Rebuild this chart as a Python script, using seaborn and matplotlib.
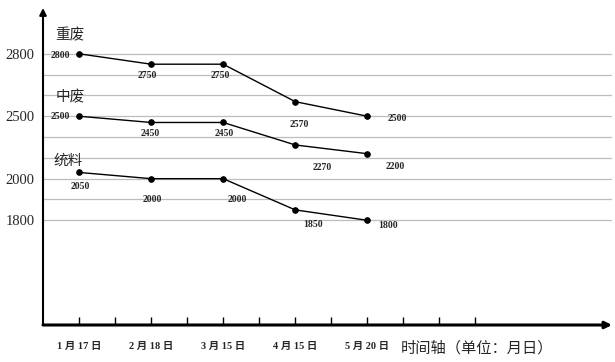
import numpy as np
import pandas as pd
import matplotlib.pyplot as plt
import seaborn as sns

# chart data
dates = ["1 月 17 日", "2 月 18 日", "3 月 15 日", "4 月 15 日", "5 月 20 日"]
grades = ["重废", "中废", "统料"]
heavy = [2800, 2750, 2750, 2570, 2500]
medium = [2500, 2450, 2450, 2270, 2200]
bulk = [2050, 2000, 2000, 1850, 1800]
y_ticks = [1800, 2000, 2500, 2800]
x_title = "时间轴（单位：月日）"

# value label offsets in pixels (dx, dy with dy downward)
heavy_off = [(-19, 2), (-4, 11), (-3, 11), (4, 23), (30, 2)]
medium_off = [(-19, 0), (-1, 11), (1, 11), (27, 23), (28, 13)]
bulk_off = [(1, 14), (1, 21), (14, 21), (18, 15), (21, 5)]
name_off = [(-9, -19), (-9, -19), (-11, -12)]

# the hand-drawn value axis is not linear: tick values sit on grid rows 0, 2, 5, 8
anchor_vals = [1000, 1800, 2000, 2500, 2800, 3600]
anchor_rows = [-8, 0, 2, 5, 8, 16]


def fwd(v):
    return np.interp(v, anchor_vals, anchor_rows)


def inv(r):
    return np.interp(r, anchor_rows, anchor_vals)


df = pd.DataFrame({
    "date": dates * 3,
    "pos": list(np.arange(len(dates)) * 2) * 3,
    "price": heavy + medium + bulk,
    "grade": [g for g in grades for _ in dates],
})

sns.set_style("white")
plt.rcParams['font.family'] = ['Liberation Serif', 'Noto Sans CJK SC']

fig = plt.figure(figsize=(6.15, 3.62), dpi=100)
ax = fig.add_axes([43 / 615, 37 / 362, (612 - 43) / 615, (325 - 8) / 362])

sns.lineplot(data=df, x="pos", y="price", hue="grade", palette=["black"] * 3,
             marker="o", markersize=4, markeredgecolor="black", linewidth=1.0,
             legend=False, ax=ax, zorder=3)

ax.set_yscale('function', functions=(fwd, inv))
grid_vals = inv(np.arange(9))
ax.set_yticks(grid_vals)
ax.set_yticklabels([str(int(round(v))) if int(round(v)) in y_ticks else "" for v in grid_vals],
                   fontsize=10.5)
ax.set_ylim(inv(-5.03), inv(10.2))
ax.yaxis.grid(True, color="#bdbdbd", linewidth=0.9)
ax.tick_params(axis="y", length=0, pad=6)

ax.set_xlim(-1.0, 14.79)
ax.set_xticks(np.arange(12))
ax.set_xticklabels([dates[i // 2] if i % 2 == 0 and i // 2 < len(dates) else "" for i in range(12)],
                   fontsize=7.5, fontweight="bold")
ax.tick_params(axis="x", direction="in", length=6, width=1, color="black", pad=12, bottom=True)
ax.set_xlabel("")
ax.set_ylabel("")

for s in ax.spines.values():
    s.set_visible(False)

# axis arrows
ax.annotate("", xy=(1.0, 0), xytext=(0, 0), xycoords="axes fraction",
            arrowprops=dict(arrowstyle="-|>", color="black", lw=2.2, mutation_scale=10,
                            shrinkA=0, shrinkB=0), annotation_clip=False)
ax.annotate("", xy=(0, 1.0), xytext=(0, 0), xycoords="axes fraction",
            arrowprops=dict(arrowstyle="-|>", color="black", lw=1.5, mutation_scale=10,
                            shrinkA=0, shrinkB=0), annotation_clip=False)

# value labels
xs = np.arange(len(dates)) * 2
for vals, offs in [(heavy, heavy_off), (medium, medium_off), (bulk, bulk_off)]:
    for x, v, (dx, dy) in zip(xs, vals, offs):
        ax.annotate(str(v), xy=(x, v), xytext=(dx, -dy), textcoords="offset pixels",
                    ha="center", va="center", fontsize=7, fontweight="bold")

# series names
for name, vals, (dx, dy) in zip(grades, [heavy, medium, bulk], name_off):
    ax.annotate(name, xy=(xs[0], vals[0]), xytext=(dx, -dy), textcoords="offset pixels",
                ha="center", va="center", fontsize=10.5, family="Noto Sans CJK SC")

ax.annotate(x_title, xy=(0.763, 0), xycoords="axes fraction", xytext=(0, -23),
            textcoords="offset pixels", ha="center", va="center", fontsize=11,
            family="Noto Sans CJK SC", annotation_clip=False)

fig.savefig("out.png", dpi=100)
